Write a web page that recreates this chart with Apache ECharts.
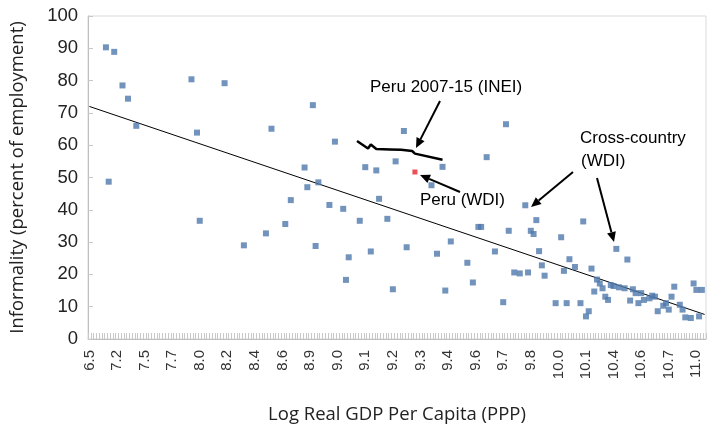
<!DOCTYPE html>
<html><head><meta charset="utf-8">
<script src="https://cdn.jsdelivr.net/npm/echarts@6/dist/echarts.min.js"></script>
<style>html,body{margin:0;padding:0;background:#fff}#c{width:707px;height:429px}</style>
</head><body><div id="c"></div>
<script>
// Category count on the x axis (one category per country/observation), label every 10th
var nCategories = 224;
var tickLabels = ['6.5','7.2','7.5','7.7','8.0','8.2','8.4','8.6','8.9','9.0','9.1','9.2','9.3','9.4','9.6','9.7','9.8','10.0','10.1','10.4','10.6','10.7','11.0'];

// Cross-country (WDI): [category index, informality %]
var crossCountry = [
 [6,90.3],[7,48.7],[9,88.9],[12,78.5],[14,74.4],[17,66.0],[37,80.4],[39,63.9],[40,36.6],[49,79.2],
 [56,29.0],[64,32.7],[66,65.1],[71,35.6],[73,43.0],[78,53.1],[79,47.0],[81,72.4],[82,28.8],[83,48.5],
 [87,41.5],[89,61.1],[92,40.3],[93,18.3],[94,25.3],[98,36.6],[100,53.2],[102,27.1],[104,52.2],[105,43.4],
 [108,37.2],[110,15.4],[111,55.0],[114,64.4],[115,28.4],[124,47.6],[126,26.4],[128,53.3],[129,15.0],[131,30.2],
 [137,23.6],[139,17.5],[141,34.7],[142,34.7],[144,56.3],[147,27.1],[150,11.4],[151,66.5],[152,33.5],[154,20.6],
 [156,20.3],[158,41.4],[159,20.6],[160,33.5],[161,32.5],[162,36.8],[163,27.2],[164,22.8],[165,19.6],[169,11.1],
 [171,31.5],[172,21.1],[173,11.1],[174,24.7],[176,22.3],[178,11.1],[179,36.4],[180,7.0],[181,8.6],[182,21.8],
 [183,14.7],[184,18.4],[185,17.2],[186,15.7],[187,13.1],[188,12.1],[189,16.7],[190,16.4],[191,27.9],[192,16.0],
 [194,15.7],[195,24.6],[196,11.9],[197,15.4],[198,14.2],[199,11.1],[200,14.2],[201,12.1],[203,12.6],[204,13.4],
 [205,13.1],[206,8.6],[208,10.3],[209,11.1],[210,9.1],[211,13.1],[212,16.2],[214,10.6],[215,9.1],[216,6.7],
 [218,6.5],[219,17.2],[220,15.2],[221,7.0],[222,15.2]
];
// Peru WDI point
var peruWDI = [[118,51.7]];
// Peru 2007-15 (INEI)
var peruINEI = [[97,61.3],[101,59.0],[102,60.2],[104,58.8],[109,58.7],[113,58.6],[117,58.2],[118,57.4],[128,55.5]];
// Linear trend line (end points)
var trendLine = [[0,72.0],[223,7.6]];
var yTicks = [0,10,20,30,40,50,60,70,80,90,100];

var categories = [];
for (var i = 0; i < nCategories; i++) categories.push(i % 10 === 0 ? tickLabels[i / 10] : '');

function arrow(x1, y1, x2, y2) {
  var a = Math.atan2(y2 - y1, x2 - x1), L = 10, W = 4.5;
  var bx = x2 - L * Math.cos(a), by = y2 - L * Math.sin(a);
  var px = -Math.sin(a) * W, py = Math.cos(a) * W;
  return [
    {type:'line', shape:{x1:x1,y1:y1,x2:bx,y2:by}, style:{stroke:'#000',lineWidth:2}},
    {type:'polygon', shape:{points:[[x2,y2],[bx+px,by+py],[bx-px,by-py]]}, style:{fill:'#000'}}
  ];
}
var annFont = '17px "Liberation Sans", Arial, sans-serif';
var graphics = []
  .concat(arrow(440,101,416,148))
  .concat(arrow(460,192,420,175))
  .concat(arrow(573,172,531,207))
  .concat(arrow(597,178,614,242));
graphics.push({type:'text', x:370, y:87, style:{text:'Peru 2007-15 (INEI)', font:annFont, fill:'#000', verticalAlign:'middle'}});
graphics.push({type:'text', x:580, y:138, style:{text:'Cross-country', font:annFont, fill:'#000', verticalAlign:'middle'}});
graphics.push({type:'text', x:581, y:161, style:{text:'(WDI)', font:annFont, fill:'#000', verticalAlign:'middle'}});
graphics.push({type:'text', x:420, y:200, style:{text:'Peru (WDI)', font:annFont, fill:'#000', verticalAlign:'middle'}});

var chart = echarts.init(document.getElementById('c'), null, {renderer:'canvas'});
chart.setOption({
  animation:false,
  backgroundColor:'#fff',
  textStyle:{fontFamily:'"Liberation Sans", Arial, sans-serif'},
  grid:{left:85, right:1, top:16, bottom:86, show:true, borderColor:'#d9d9d9', borderWidth:1, containLabel:false},
  xAxis:{
    type:'category', data:categories, boundaryGap:true,
    name:'Log Real GDP Per Capita (PPP)', nameLocation:'middle', nameGap:66,
    nameTextStyle:{fontSize:18.5, color:'#222', fontFamily:'"Open Sans", sans-serif'},
    axisLine:{lineStyle:{color:'#bfbfbf'}},
    axisTick:{show:true, interval:0, inside:true, length:6, lineStyle:{color:'#c8c8c8'}},
    axisLabel:{interval:0, rotate:90, fontSize:15, color:'#333', margin:11}
  },
  yAxis:{
    type:'value', min:0, max:100, interval:10,
    name:'Informality (percent of employment)', nameLocation:'middle', nameGap:61,
    nameTextStyle:{fontSize:18.5, color:'#222', fontFamily:'"Open Sans", sans-serif'},
    splitLine:{show:false},
    axisLine:{show:true, lineStyle:{color:'#bfbfbf'}},
    axisTick:{show:true, inside:true, length:5, lineStyle:{color:'#c8c8c8'}},
    axisLabel:{fontSize:18.5, color:'#222', margin:10, formatter:function(v){return yTicks.indexOf(v)>=0?String(v):'';}}
  },
  graphic:graphics,
  series:[
    {type:'line', data:trendLine, symbol:'none', lineStyle:{color:'#000', width:1}, z:1},
    {type:'scatter', data:crossCountry, symbol:'rect', symbolSize:6, itemStyle:{color:'#4f78ab'}, z:3},
    {type:'line', data:peruINEI, symbol:'none', lineStyle:{color:'#000', width:2.5}, z:4},
    {type:'scatter', data:peruWDI, symbol:'rect', symbolSize:5, itemStyle:{color:'#e8202a'}, z:5}
  ]
});
</script></body></html>
